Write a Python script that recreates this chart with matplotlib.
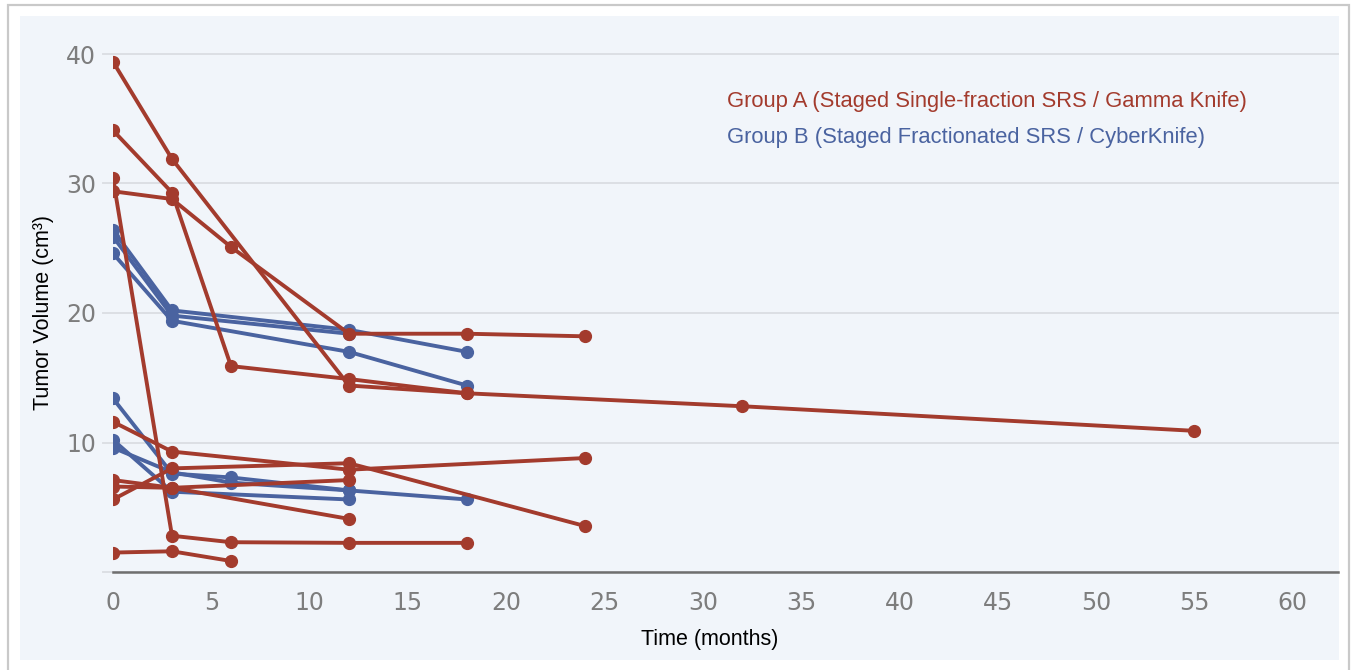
import matplotlib
matplotlib.use("Agg")
import matplotlib.pyplot as plt
from matplotlib.patches import Rectangle

# months after treatment and tumour volume (cm^3), one list per patient
group_a_months = [
    [0, 3, 12, 18, 32, 55],
    [0, 3, 6, 12, 18],
    [0, 3, 6, 12, 18, 24],
    [0, 3, 6, 12, 18],
    [0, 3, 6],
    [0, 3, 12, 24],
    [0, 3, 12, 24],
    [0, 3, 12],
    [0, 3, 12],
]
group_a_volumes = [
    [39.4, 31.9, 14.4, 13.8, 12.8, 10.9],
    [34.1, 29.3, 15.9, 14.9, 13.8],
    [29.4, 28.8, 25.1, 18.4, 18.4, 18.2],
    [30.4, 2.8, 2.3, 2.25, 2.25],
    [1.5, 1.6, 0.85],
    [11.6, 9.3, 7.9, 8.8],
    [5.6, 8.0, 8.4, 3.55],
    [7.1, 6.5, 4.1],
    [6.6, 6.5, 7.1],
]

group_b_months = [
    [0, 3, 12, 18],
    [0, 3, 12],
    [0, 3, 12, 18],
    [0, 3, 6, 12, 18],
    [0, 3, 6, 12],
    [0, 3, 12],
]
group_b_volumes = [
    [26.4, 20.2, 18.7, 17.0],
    [25.9, 19.8, 18.4],
    [24.6, 19.4, 17.0, 14.4],
    [13.4, 7.6, 7.3, 6.3, 5.6],
    [9.6, 7.7, 6.9, 6.3],
    [10.2, 6.2, 5.6],
]

group_names = [
    "Group A (Staged Single-fraction SRS / Gamma Knife)",
    "Group B (Staged Fractionated SRS / CyberKnife)",
]
x_ticks = list(range(0, 61, 5))
y_ticks = [10, 20, 30, 40]

red = "#a33b2d"
blue = "#4a63a0"
tick_grey = "#7d7d7d"

W, H = 1353, 670
fig = plt.figure(figsize=(W / 100, H / 100), dpi=100)
fig.patch.set_facecolor("white")


def px_rect(x0, y0, x1, y1, **kw):
    # rectangle given in pixel coords measured from the top-left corner
    r = Rectangle((x0 / W, 1 - y1 / H), (x1 - x0) / W, (y1 - y0) / H,
                  transform=fig.transFigure, zorder=-5, **kw)
    fig.add_artist(r)


# card outline and pale panel behind the chart
px_rect(8, 5, 1349, 672, facecolor="white", edgecolor="#c9c9c9", linewidth=1.6)
px_rect(20, 16, 1339, 660, facecolor="#f1f5fa", edgecolor="none")

ax = fig.add_axes([113 / W, 1 - 572 / H, (1338 - 113) / W, (572 - 54) / H])
ax.set_facecolor("none")
ax.set_xlim(0, 62.3)
ax.set_ylim(0, 40)

# horizontal grid, running a little past the left edge
for v in [0] + y_ticks:
    ax.plot([-0.5, 62.3], [v, v], color="#dcdfe4", linewidth=1.4,
            clip_on=False, zorder=0)
ax.plot([0, 62.3], [0, 0], color="#6f6f6f", linewidth=1.8, zorder=1,
        clip_on=False)

for xs, ys in zip(group_b_months, group_b_volumes):
    ax.plot(xs, ys, color=blue, linewidth=2.8, marker="o", markersize=8.5,
            zorder=2)
for xs, ys in zip(group_a_months, group_a_volumes):
    ax.plot(xs, ys, color=red, linewidth=2.8, marker="o", markersize=8.5,
            zorder=3)

for s in ax.spines.values():
    s.set_visible(False)

ax.set_xticks(x_ticks)
ax.set_yticks(y_ticks)
ax.tick_params(axis="both", length=0, labelsize=17, labelcolor=tick_grey)
ax.tick_params(axis="x", pad=14)
ax.tick_params(axis="y", pad=12)

ax.set_xlabel("Time (months)", fontsize=15.5, family="Liberation Sans",
              color="black")
ax.xaxis.set_label_coords(0.487, -0.110)
ax.set_ylabel("Tumor Volume (cm³)", fontsize=15.5, family="Liberation Sans",
              color="black")
ax.yaxis.set_label_coords(-0.048, 0.5)

fig.text(727 / W, 1 - 101 / H, group_names[0], color=red, fontsize=15.8,
         family="Liberation Sans", va="center", ha="left")
fig.text(727 / W, 1 - 138 / H, group_names[1], color=blue, fontsize=15.8,
         family="Liberation Sans", va="center", ha="left")

fig.savefig("out.png", dpi=100)
